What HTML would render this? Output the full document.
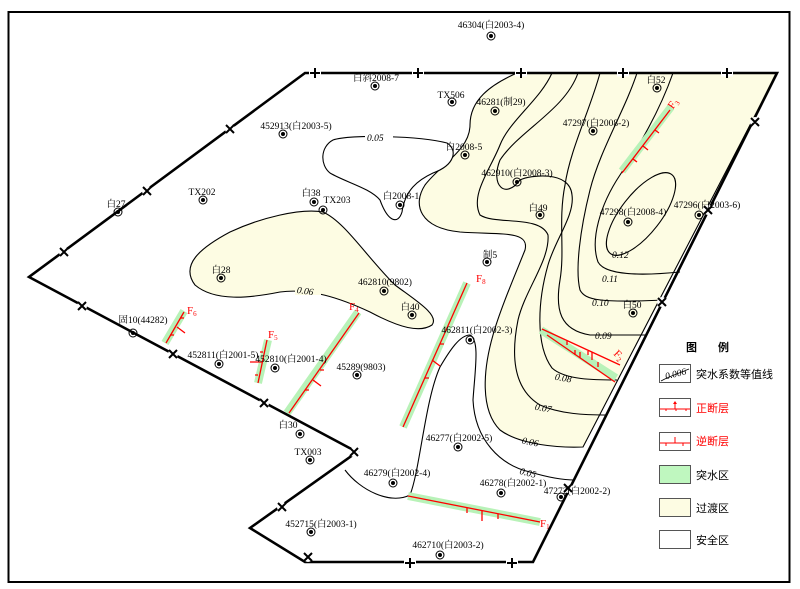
<!DOCTYPE html>
<html><head><meta charset="utf-8"><style>
body{margin:0;background:#fff}
svg{display:block}
text{font-family:"Liberation Serif","Noto Serif CJK SC","Noto Sans CJK SC",serif;font-size:9.5px;fill:#000}
.c{fill:none;stroke:#000;stroke-width:1.1}
.b{fill:none;stroke:#000;stroke-width:2.6}
.r{stroke:#f00;stroke-width:1.3;fill:none}
.g{stroke:#b8f2b8;stroke-width:8;fill:none}
.f{fill:#f00;font-size:11px}
.lg{font-family:"Liberation Sans","Noto Sans CJK SC",sans-serif;font-size:11px}
</style></head><body>
<svg width="800" height="589" viewBox="0 0 800 589" xmlns="http://www.w3.org/2000/svg">
<rect x="8.5" y="12" width="781" height="570" fill="#fff" stroke="#000" stroke-width="2"/>
<path d="M517,73 C490,85 470,100 470,125 C470,150 440,165 425,185 C412,205 420,228 460,232 C500,235 530,230 525,250 C515,275 500,310 493,335 C483,370 480,410 500,430 C520,445 560,448 583,447 L777,73 Z" style="fill:#fdfce3;stroke:#000;stroke-width:1.1"/>
<path d="M323,212 C345,222 365,255 395,285 C415,300 440,315 432,325 C420,333 400,328 370,312 C340,298 310,288 280,292 C250,298 215,302 195,285 C180,265 200,248 230,232 C260,218 300,208 323,212 Z" style="fill:#fdfce3;stroke:#000;stroke-width:1.1"/>
<path d="M333,140 C350,134 420,136 447,143 C458,150 455,165 433,173 C418,180 405,190 402,212 C398,225 388,222 380,200 C370,188 345,182 330,173 C320,165 320,147 333,140 Z" style="fill:#fff;stroke:#000;stroke-width:1.1"/>
<path class="c" d="M345,470 C360,490 390,505 410,495 C420,470 425,400 440,367 C450,350 460,335 470,335 C480,340 475,370 473,400 C475,440 500,465 530,472 C550,478 565,480 575,480"/>
<path class="c" d="M552,73 C540,100 510,120 500,145 C490,170 470,195 480,215 C495,225 540,215 548,235 C550,260 525,290 518,320 C510,360 515,390 540,405 C560,414 585,415 607,415"/>
<path class="c" d="M578,73 C565,110 520,130 500,160 C490,185 505,200 520,180 C530,175 570,170 572,195 C575,215 555,240 548,265 C538,300 535,345 552,368 C565,380 595,380 617,380"/>
<path class="c" d="M600,73 C590,110 570,150 565,185 C558,220 565,250 560,280 C555,310 560,330 590,335 L647,335"/>
<path class="c" d="M637,73 C625,110 600,150 590,190 C580,230 575,270 580,290 C585,300 600,303 663,300"/>
<path class="c" d="M673,73 C660,110 640,145 620,175 C600,205 590,240 598,262 C605,275 640,276 680,272"/>
<ellipse class="c" cx="641" cy="214" rx="50" ry="20" transform="rotate(-52 641 214)"/>
<g font-style="italic" font-size="11">
<rect x="365" y="130" width="28" height="12" fill="#fff"/><text x="367" y="141">0.05</text>
<rect x="295" y="283" width="26" height="12" fill="#fdfce3"/><text x="297" y="294" transform="rotate(8 305 290)">0.06</text>
<text x="520" y="477" transform="rotate(15 532 472)">0.05</text>
<text x="522" y="446" transform="rotate(12 535 442)">0.06</text>
<text x="535" y="412" transform="rotate(10 548 408)">0.07</text>
<text x="555" y="382" transform="rotate(10 568 378)">0.08</text>
<text x="595" y="339">0.09</text>
<text x="592" y="306">0.10</text>
<text x="602" y="282">0.11</text>
<text x="612" y="258">0.12</text>
</g>
<g>
<line class="g" x1="622" y1="171" x2="671" y2="107"/><line class="r" x1="622" y1="173" x2="670" y2="110"/>
<path class="r" d="M633,159 l4,3 M643,146 l5,4 M655,130 l4,3"/>
<line class="g" x1="541" y1="330" x2="616" y2="378" stroke-width="12"/>
<line class="r" x1="542" y1="329" x2="620" y2="365"/><line class="r" x1="547" y1="335" x2="615" y2="382"/>
<path class="r" d="M567,341 v4 M588,351 v4 M575,350 v5 M598,362 v5 M592,352 v8 M580,358 v-6"/>
<line class="g" x1="403" y1="427" x2="467" y2="283"/><line class="r" x1="403" y1="427" x2="467" y2="283"/>
<path class="r" d="M425,378 h4 M440,344 h4 M432,360 l8,6"/>
<line class="g" x1="287" y1="413" x2="358" y2="312"/><line class="r" x1="289" y1="413" x2="359" y2="313"/>
<path class="r" d="M305,390 h4 M320,370 h4 M313,380 l8,6"/>
<line class="g" x1="258" y1="383" x2="268" y2="340"/><line class="r" x1="258" y1="383" x2="267" y2="340"/>
<path class="r" d="M258,375 h-3 M263,352 h-3 M262,362 h-12"/>
<line class="g" x1="165" y1="343" x2="184" y2="311"/><line class="r" x1="166" y1="343" x2="184" y2="312"/>
<path class="r" d="M170,335 h4 M180,318 h4 M177,327 l8,6"/>
<line class="g" x1="408" y1="496" x2="540" y2="522"/><line class="r" x1="408" y1="496" x2="540" y2="522"/>
<path class="r" d="M467,508 v5 M498,514 v5 M482,511 v10"/>
<text class="f" x="668" y="108" transform="rotate(-55 672 104)">F<tspan font-size="7" dy="2">3</tspan></text>
<text class="f" x="614" y="358" transform="rotate(45 618 355)">F<tspan font-size="7" dy="2">2</tspan></text>
<text class="f" x="476" y="282">F<tspan font-size="7" dy="2">8</tspan></text>
<text class="f" x="349" y="310">F<tspan font-size="7" dy="2">4</tspan></text>
<text class="f" x="268" y="338">F<tspan font-size="7" dy="2">5</tspan></text>
<text class="f" x="187" y="314">F<tspan font-size="7" dy="2">6</tspan></text>
<text class="f" x="540" y="527">F<tspan font-size="7" dy="2">1</tspan></text>
</g>
<path class="b" d="M305,73 L777,73 L533,562 L305,562 L250,528 L357,452 L29,277 Z"/>
<g stroke="#fff" stroke-width="7" fill="none">
<path d="M309,73h12M412,73h12M515,73h12M617,73h12M721,73h12M404,563h12M506,563h12"/>
</g>
<g fill="#fff"><circle cx="230" cy="129" r="5"/><circle cx="147" cy="191" r="5"/><circle cx="64" cy="252" r="5"/><circle cx="82" cy="306" r="5"/><circle cx="173" cy="354" r="5"/><circle cx="264" cy="403" r="5"/><circle cx="354" cy="452" r="5"/><circle cx="282" cy="507" r="5"/><circle cx="308" cy="557" r="5"/><circle cx="568" cy="488" r="5"/><circle cx="662" cy="302" r="5"/><circle cx="708" cy="210" r="5"/><circle cx="755" cy="122" r="5"/></g>
<g stroke="#000" stroke-width="2">
<path d="M310,73h10M315,68v10M413,73h10M418,68v10M516,73h10M521,68v10M618,73h10M623,68v10M722,73h10M727,68v10M405,563h10M410,558v10M507,563h10M512,558v10"/>
<path d="M226,125l8,8M234,125l-8,8M143,187l8,8M151,187l-8,8M60,248l8,8M68,248l-8,8M78,302l8,8M86,302l-8,8M169,350l8,8M177,350l-8,8M260,399l8,8M268,399l-8,8M350,448l8,8M358,448l-8,8M278,503l8,8M286,503l-8,8M304,553l8,8M312,553l-8,8M564,484l8,8M572,484l-8,8M658,298l8,8M666,298l-8,8M704,206l8,8M712,206l-8,8M751,118l8,8M759,118l-8,8"/>
</g>
<g fill="none" stroke="#000" stroke-width="1">
<circle cx="491" cy="36" r="4"/><circle cx="375" cy="86" r="4"/><circle cx="452" cy="102" r="4"/><circle cx="495" cy="111" r="4"/><circle cx="283" cy="134" r="4"/><circle cx="465" cy="155" r="4"/><circle cx="593" cy="131" r="4"/><circle cx="657" cy="88" r="4"/><circle cx="517" cy="182" r="4"/><circle cx="203" cy="200" r="4"/><circle cx="314" cy="202" r="4"/><circle cx="323" cy="210" r="4"/><circle cx="400" cy="205" r="4"/><circle cx="118" cy="212" r="4"/><circle cx="540" cy="215" r="4"/><circle cx="628" cy="222" r="4"/><circle cx="699" cy="215" r="4"/><circle cx="487" cy="262" r="4"/><circle cx="221" cy="278" r="4"/><circle cx="384" cy="291" r="4"/><circle cx="412" cy="315" r="4"/><circle cx="633" cy="313" r="4"/><circle cx="133" cy="333" r="4"/><circle cx="470" cy="340" r="4"/><circle cx="219" cy="364" r="4"/><circle cx="275" cy="368" r="4"/><circle cx="357" cy="375" r="4"/><circle cx="300" cy="434" r="4"/><circle cx="310" cy="460" r="4"/><circle cx="458" cy="447" r="4"/><circle cx="393" cy="483" r="4"/><circle cx="501" cy="493" r="4"/><circle cx="561" cy="497" r="4"/><circle cx="311" cy="532" r="4"/><circle cx="440" cy="555" r="4"/>
</g>
<g fill="#000">
<circle cx="491" cy="36" r="2"/><circle cx="375" cy="86" r="2"/><circle cx="452" cy="102" r="2"/><circle cx="495" cy="111" r="2"/><circle cx="283" cy="134" r="2"/><circle cx="465" cy="155" r="2"/><circle cx="593" cy="131" r="2"/><circle cx="657" cy="88" r="2"/><circle cx="517" cy="182" r="2"/><circle cx="203" cy="200" r="2"/><circle cx="314" cy="202" r="2"/><circle cx="323" cy="210" r="2"/><circle cx="400" cy="205" r="2"/><circle cx="118" cy="212" r="2"/><circle cx="540" cy="215" r="2"/><circle cx="628" cy="222" r="2"/><circle cx="699" cy="215" r="2"/><circle cx="487" cy="262" r="2"/><circle cx="221" cy="278" r="2"/><circle cx="384" cy="291" r="2"/><circle cx="412" cy="315" r="2"/><circle cx="633" cy="313" r="2"/><circle cx="133" cy="333" r="2"/><circle cx="470" cy="340" r="2"/><circle cx="219" cy="364" r="2"/><circle cx="275" cy="368" r="2"/><circle cx="357" cy="375" r="2"/><circle cx="300" cy="434" r="2"/><circle cx="310" cy="460" r="2"/><circle cx="458" cy="447" r="2"/><circle cx="393" cy="483" r="2"/><circle cx="501" cy="493" r="2"/><circle cx="561" cy="497" r="2"/><circle cx="311" cy="532" r="2"/><circle cx="440" cy="555" r="2"/>
</g>
<g text-anchor="middle">
<text x="491" y="28">46304(白2003-4)</text><text x="376" y="81">白斜2008-7</text><text x="451" y="98">TX506</text><text x="501" y="105">46281(制29)</text><text x="296" y="129">452913(白2003-5)</text><text x="464" y="150">白2008-5</text><text x="596" y="126">47297(白2008-2)</text><text x="656" y="83">白52</text><text x="517" y="176">462910(白2008-3)</text><text x="202" y="195">TX202</text><text x="311" y="196">白38</text><text x="337" y="203">TX203</text><text x="401" y="199">白2008-1</text><text x="116" y="207">白27</text><text x="538" y="211">白49</text><text x="633" y="215">47298(白2008-4)</text><text x="707" y="208">47296(白2003-6)</text><text x="490" y="258">制5</text><text x="221" y="273">白28</text><text x="385" y="285">462810(9802)</text><text x="410" y="310">白40</text><text x="632" y="308">白50</text><text x="143" y="323">固10(44282)</text><text x="477" y="333">462811(白2002-3)</text><text x="223" y="358">452811(白2001-5)</text><text x="291" y="362">452810(白2001-4)</text><text x="361" y="370">45289(9803)</text><text x="288" y="428">白30</text><text x="308" y="455">TX003</text><text x="459" y="441">46277(白2002-5)</text><text x="397" y="476">46279(白2002-4)</text><text x="513" y="486">46278(白2002-1)</text><text x="577" y="494">47272(白2002-2)</text><text x="321" y="527">452715(白2003-1)</text><text x="448" y="548">462710(白2003-2)</text>
</g>
<text class="lg" x="686" y="351" font-weight="bold">图</text><text class="lg" x="718" y="351" font-weight="bold">例</text>
<g stroke="#555" stroke-width="1">
<rect x="659.5" y="364.5" width="31" height="18" fill="#fff"/>
<rect x="659.5" y="398.5" width="31" height="18" fill="#fff"/>
<rect x="659.5" y="432.5" width="31" height="18" fill="#fff"/>
<rect x="659.5" y="465.5" width="31" height="18" fill="#bff7bf"/>
<rect x="659.5" y="498.5" width="31" height="18" fill="#fdfce3"/>
<rect x="659.5" y="530.5" width="31" height="18" fill="#fff"/>
</g>
<path d="M661,381 C670,376 680,373 689,369" stroke="#000" fill="none" stroke-width="0.8"/>
<text x="665" y="377" font-size="7" font-style="italic" transform="rotate(-14 675 374)">0.006</text>
<path d="M660,409h30M666,409v2M676,409v2M686,409v2M675,409v-5" stroke="#f00" fill="none"/>
<path d="M673,404l2,-3l2,3z" fill="#f00"/>
<path d="M660,443h30M666,443v3M683,443v3M675,443v-6" stroke="#f00" fill="none"/>
<text class="lg" x="696" y="378">突水系数等值线</text>
<text class="lg" x="696" y="412" style="fill:#f00">正断层</text>
<text class="lg" x="696" y="445" style="fill:#f00">逆断层</text>
<text class="lg" x="696" y="479">突水区</text>
<text class="lg" x="696" y="512">过渡区</text>
<text class="lg" x="696" y="544">安全区</text>
</svg>
</body></html>
